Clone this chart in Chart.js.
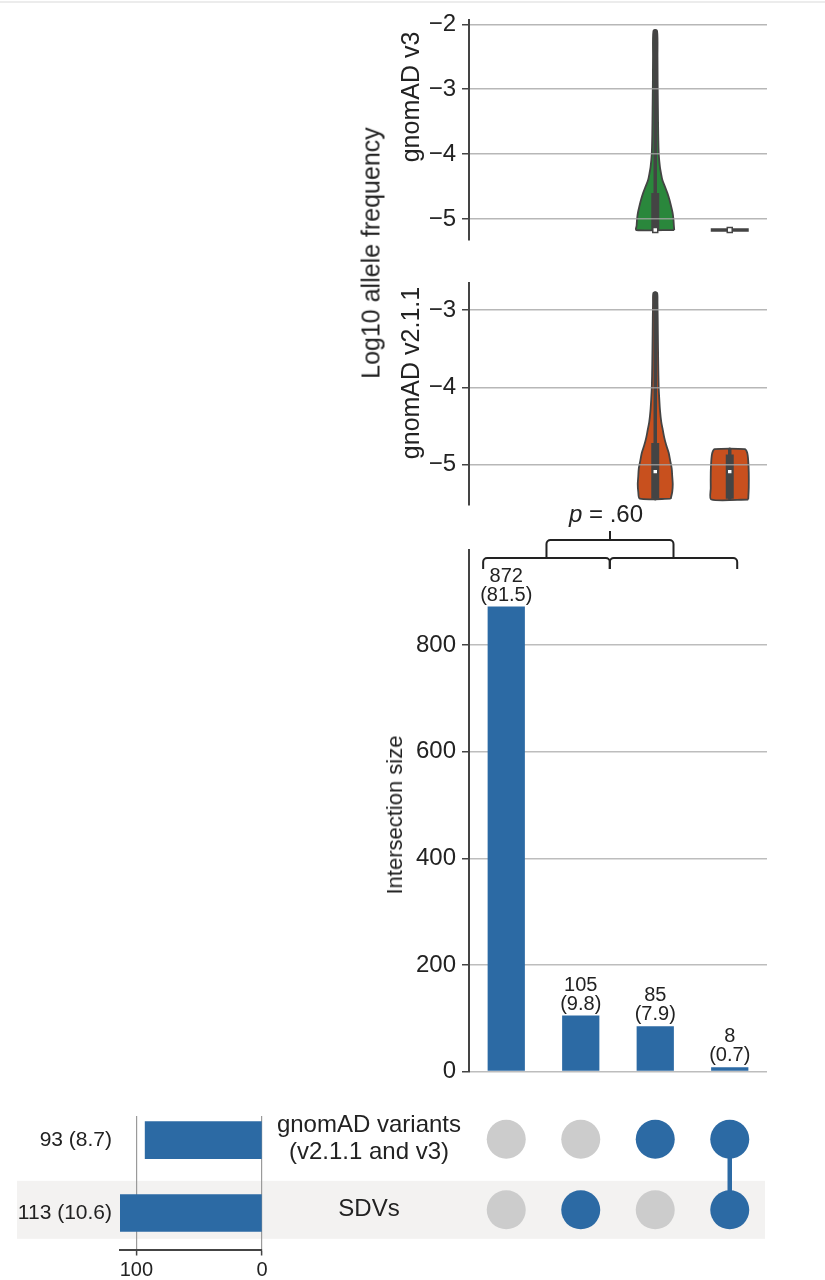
<!DOCTYPE html>
<html><head><meta charset="utf-8">
<script src="https://cdn.jsdelivr.net/npm/chart.js@4.4.1/dist/chart.umd.min.js"></script>
<style>
html,body{margin:0;padding:0;background:#fff;}
body{width:825px;height:1280px;position:relative;overflow:hidden;font-family:"Liberation Sans",Arial,sans-serif;}
canvas{position:absolute;}
.topline{position:absolute;left:0;top:1px;width:825px;height:2px;background:#ececec;}
.vt{position:absolute;white-space:nowrap;transform:translate(-50%,-50%) rotate(-90deg);color:#222;font-size:25px;line-height:1;}
</style></head><body>
<div class="topline"></div>
<canvas id="cMatrix" width="825" height="190" style="left:0;top:1090px"></canvas>
<canvas id="cTotals" width="280" height="190" style="left:0;top:1090px"></canvas>
<canvas id="cV3" width="825" height="260" style="left:0;top:0"></canvas>
<canvas id="cV2" width="825" height="265" style="left:0;top:260px"></canvas>
<canvas id="cBars" width="825" height="602" style="left:0;top:490px"></canvas>
<div class="vt" style="left:371px;top:253px">Log10 allele frequency</div>
<div class="vt" style="left:410px;top:97px">gnomAD v3</div>
<div class="vt" style="left:410px;top:373px">gnomAD v2.1.1</div>
<div class="vt" style="left:395px;top:815px;font-size:22px">Intersection size</div>
<script>
// ---------- data ----------
const intersections = ['neither', 'SDVs only', 'gnomAD only', 'gnomAD and SDVs'];
const intersectionCounts = [872, 105, 85, 8];
const intersectionPercents = [81.5, 9.8, 7.9, 0.7];
const setNames = [['gnomAD variants', '(v2.1.1 and v3)'], ['SDVs']];
const setTotals = [93, 113];
const setPercents = [8.7, 10.6];
const inGnomad = [0, 0, 1, 1];
const inSdv = [0, 1, 0, 1];
const countTicks = [0, 200, 400, 600, 800];
const totalTicks = [0, 100];
const v3Ticks = [-5, -4, -3, -2];
const v21Ticks = [-5, -4, -3];
const pValueText = '.60';
// violin outlines: log10 AF levels and half widths (column units), per intersection column
const v3Levels = [[], [],
  [-5.17, -5.1, -5.0, -4.9, -4.8, -4.7, -4.6, -4.5, -4.4, -4.3, -4.2, -4.0, -3.7, -3.3, -2.9, -2.5, -2.1],
  [-5.17]];
const v3Widths = [[], [],
  [0.255, 0.250, 0.244, 0.232, 0.212, 0.190, 0.163, 0.130, 0.096, 0.078, 0.063, 0.047, 0.040, 0.036, 0.032, 0.030, 0.024],
  [0.255]];
// [min, q1, median, q3, max]
const v3Stats = [null, null, [-5.17, -5.17, -5.17, -4.6, -2.1], [-5.17, -5.17, -5.17, -5.17, -5.17]];
const v21Levels = [[], [],
  [-5.44, -5.35, -5.25, -5.15, -5.05, -4.95, -4.85, -4.75, -4.65, -4.55, -4.45, -4.3, -4.15, -4.0, -3.7, -3.3, -2.9, -2.78],
  [-5.45, -5.3, -5.1, -4.95, -4.85, -4.8]];
const v21Widths = [[], [],
  [0.208, 0.228, 0.235, 0.228, 0.221, 0.201, 0.181, 0.148, 0.121, 0.101, 0.081, 0.064, 0.054, 0.046, 0.040, 0.035, 0.030, 0.024],
  [0.248, 0.255, 0.255, 0.248, 0.235, 0.201]];
const v21Stats = [null, null, [-5.44, -5.44, -5.09, -4.72, -2.78], [-5.44, -5.44, -5.09, -4.87, -4.8]];

// ---------- style ----------
const FONT = '"Liberation Sans", Arial, sans-serif';
const BLUE = '#2c6aa4';
const GREEN = '#2a873c';
const ORANGE = '#c8501e';
const DARK = '#444444';
Chart.defaults.font.family = FONT;
Chart.defaults.color = '#222';
Chart.defaults.animation = false;
Chart.defaults.events = [];
Chart.defaults.plugins.legend.display = false;
Chart.defaults.plugins.tooltip.enabled = false;

const PLOT_PAD = {left: 380, right: 58};
const AXIS_W = 89;

function leftAxis(min, max, ticks, gridOnTop) {
  return {
    type: 'linear', min: min, max: max,
    afterFit: s => { s.width = AXIS_W; },
    afterBuildTicks: s => { s.ticks = ticks.map(v => ({value: v})); },
    ticks: {font: {size: 24}, color: '#222', padding: 6, z: gridOnTop ? 1 : 0,
      callback: v => (v < 0 ? '\u2212' : '') + Math.abs(v)},
    grid: {color: gridOnTop ? 'rgba(165,165,165,0.8)' : '#bdbdbd', lineWidth: 1.5, tickLength: 7,
      tickColor: DARK, tickWidth: 1.5, z: gridOnTop ? 1 : -1},
    border: {color: DARK, width: 2, z: gridOnTop ? 1 : 0}
  };
}

function violinChart(id, levels, widths, stats, color, yMin, yMax, ticks, padTop, padBottom) {
  const datasets = [];
  stats.forEach((st, c) => {
    if (!st) return;
    const [mn, q1, md, q3, mx] = st;
    datasets.push({data: [{x: c, y: md}], showLine: false, pointRadius: 3.5, pointStyle: 'rect',
      pointBackgroundColor: '#fff', pointBorderColor: DARK, pointBorderWidth: 1.5, order: 0});
    if (q3 > q1) datasets.push({data: [{x: c, y: q1}, {x: c, y: q3}], borderColor: DARK, borderWidth: 8,
      pointRadius: 0, borderCapStyle: 'butt', order: 1});
    if (mx > mn) datasets.push({data: [{x: c, y: mn}, {x: c, y: mx}], borderColor: DARK, borderWidth: 3.5,
      pointRadius: 0, borderCapStyle: 'round', order: 2});
  });
  levels.forEach((lv, c) => {
    if (!lv.length) return;
    const w = widths[c];
    const right = lv.map((y, i) => ({x: c + w[i], y: y}));
    const left = lv.map((y, i) => ({x: c - w[i], y: y})).reverse();
    datasets.push({data: right.concat(left, [right[0]]), borderColor: DARK,
      borderWidth: lv.length > 1 ? 1.8 : 3.5, backgroundColor: color,
      fill: lv.length > 1 ? 'shape' : false, pointRadius: 0, tension: 0.25, order: 3});
  });
  return new Chart(document.getElementById(id), {
    type: 'line',
    data: {datasets: datasets},
    options: {
      responsive: false,
      layout: {padding: {left: PLOT_PAD.left, right: PLOT_PAD.right, top: padTop, bottom: padBottom}},
      scales: {
        x: {type: 'linear', min: -0.5, max: intersections.length - 0.5, display: false},
        y: leftAxis(yMin, yMax, ticks, true)
      }
    }
  });
}

violinChart('cV3', v3Levels, v3Widths, v3Stats, GREEN, -5.318, -1.939, v3Ticks, 17, 20);
violinChart('cV2', v21Levels, v21Widths, v21Stats, ORANGE, -5.516, -2.652, v21Ticks, 23, 20);

// ---------- intersection bars ----------
const barLabelPlugin = {
  id: 'barLabels',
  afterDatasetsDraw(chart) {
    const ctx = chart.ctx;
    const meta = chart.getDatasetMeta(0);
    ctx.save();
    ctx.font = '20px ' + FONT;
    ctx.fillStyle = '#222';
    ctx.textAlign = 'center';
    ctx.textBaseline = 'alphabetic';
    meta.data.forEach((bar, i) => {
      ctx.fillText(String(intersectionCounts[i]), bar.x, bar.y - 25);
      ctx.fillText('(' + intersectionPercents[i].toFixed(1) + ')', bar.x, bar.y - 6);
    });
    ctx.restore();
  }
};

const bracketGroups = [[-0.31, 1.39], [1.39, 3.10]];
const bracketPlugin = {
  id: 'brackets',
  afterDraw(chart) {
    const ctx = chart.ctx;
    const xs = chart.scales.x;
    const top = chart.chartArea.top;
    const px = v => xs.getPixelForValue(v);
    const r = 4;
    function bracket(x1, x2, y, yEnd) {
      ctx.beginPath();
      ctx.moveTo(x1, yEnd);
      ctx.lineTo(x1, y + r);
      ctx.arcTo(x1, y, x1 + r, y, r);
      ctx.lineTo(x2 - r, y);
      ctx.arcTo(x2, y, x2, y + r, r);
      ctx.lineTo(x2, yEnd);
      ctx.stroke();
    }
    ctx.save();
    ctx.strokeStyle = '#222';
    ctx.lineWidth = 2;
    const lowY = top + 8, lowEnd = top + 19;
    const upY = top - 10, upTop = top - 19;
    const mids = [];
    bracketGroups.forEach(([a, b]) => {
      bracket(px(a), px(b), lowY, lowEnd);
      mids.push(px((a + b) / 2));
    });
    bracket(mids[0], mids[1], upY, lowY);
    const cx = (mids[0] + mids[1]) / 2;
    ctx.beginPath();
    ctx.moveTo(cx, upY);
    ctx.lineTo(cx, upTop);
    ctx.stroke();
    // p value text
    ctx.fillStyle = '#222';
    ctx.textBaseline = 'alphabetic';
    ctx.textAlign = 'left';
    const fItal = 'italic 24px ' + FONT, fNorm = '24px ' + FONT;
    ctx.font = fItal; const w1 = ctx.measureText('p').width;
    ctx.font = fNorm; const rest = ' = ' + pValueText; const w2 = ctx.measureText(rest).width;
    const x0 = cx - 4 - (w1 + w2) / 2;
    const by = top - 28;
    ctx.font = fItal; ctx.fillText('p', x0, by);
    ctx.font = fNorm; ctx.fillText(rest, x0 + w1, by);
    ctx.restore();
  }
};

new Chart(document.getElementById('cBars'), {
  type: 'bar',
  data: {labels: intersections, datasets: [{data: intersectionCounts, backgroundColor: BLUE,
    barPercentage: 0.5, categoryPercentage: 1}]},
  options: {
    responsive: false,
    layout: {padding: {left: PLOT_PAD.left, right: PLOT_PAD.right, top: 60, bottom: 20}},
    scales: {
      x: {display: false},
      y: leftAxis(0, 978, countTicks, false)
    }
  },
  plugins: [barLabelPlugin, bracketPlugin]
});

// ---------- membership matrix ----------
const rowOf = r => setNames.length - 1 - r;
const grayDots = [], blueDots = [], connectors = [];
intersections.forEach((_, c) => {
  const rows = [];
  [inGnomad, inSdv].forEach((mem, r) => {
    if (mem[c]) { blueDots.push({x: c, y: rowOf(r)}); rows.push(rowOf(r)); }
    else grayDots.push({x: c, y: rowOf(r)});
  });
  if (rows.length > 1) connectors.push([{x: c, y: Math.min(...rows)}, {x: c, y: Math.max(...rows)}]);
});
const bandPlugin = {
  id: 'band',
  beforeDraw(chart) {
    const ctx = chart.ctx, ys = chart.scales.y;
    ctx.save();
    ctx.fillStyle = '#f3f2f1';
    setNames.forEach((_, r) => {
      if (r % 2 === 1) {
        const y = ys.getPixelForValue(rowOf(r));
        ctx.fillRect(17, y - 29, chart.chartArea.right - 2 - 17, 58);
      }
    });
    ctx.restore();
  }
};
const matrixSets = connectors.map(seg => ({data: seg, borderColor: BLUE, borderWidth: 4.5, pointRadius: 0, order: 2}));
matrixSets.push({data: grayDots, showLine: false, pointRadius: 19.5, pointBackgroundColor: '#cccccc', pointBorderWidth: 0, order: 1});
matrixSets.push({data: blueDots, showLine: false, pointRadius: 19.5, pointBackgroundColor: BLUE, pointBorderWidth: 0, order: 0});
new Chart(document.getElementById('cMatrix'), {
  type: 'line',
  data: {datasets: matrixSets},
  options: {
    responsive: false,
    clip: false,
    layout: {padding: {left: 260, right: PLOT_PAD.right, top: 26, bottom: 30.5}},
    scales: {
      x: {type: 'linear', min: -0.5, max: intersections.length - 0.5, display: false},
      y: {type: 'linear', min: -0.5, max: 1.33, offset: false,
        afterFit: s => { s.width = 209; },
        afterBuildTicks: s => { s.ticks = setNames.map((_, r) => ({value: rowOf(r)})); },
        ticks: {font: {size: 24, lineHeight: 1.12}, color: '#222', padding: 8, crossAlign: 'center',
          callback: v => setNames[rowOf(v)]},
        grid: {display: false, drawTicks: false}, border: {display: false}}
    }
  },
  plugins: [bandPlugin]
});

// ---------- set totals ----------
new Chart(document.getElementById('cTotals'), {
  type: 'bar',
  data: {datasets: [{data: setTotals.map((v, r) => ({x: v, y: rowOf(r)})), backgroundColor: BLUE, barThickness: 37}]},
  options: {
    indexAxis: 'y',
    responsive: false,
    layout: {padding: {left: 18, right: 18, top: 26, bottom: 2.5}},
    scales: {
      x: {type: 'linear', position: 'bottom', reverse: true, min: 0, max: 113,
        afterBuildTicks: s => { s.ticks = totalTicks.map(v => ({value: v})); },
        afterFit: s => { s.height = 28; },
        ticks: {font: {size: 20}, color: '#222', padding: 3},
        grid: {color: '#9a9a9a', lineWidth: 1.2, tickLength: 6, tickColor: DARK, tickWidth: 1.5},
        border: {color: DARK, width: 2}},
      y: {type: 'linear', min: -0.5, max: 1.33, offset: false,
        afterFit: s => { s.width = 102; },
        afterBuildTicks: s => { s.ticks = setNames.map((_, r) => ({value: rowOf(r)})); },
        ticks: {font: {size: 21}, color: '#222', padding: 8,
          callback: v => { const r = rowOf(v); return setTotals[r] + ' (' + setPercents[r] + ')'; }},
        grid: {display: false, drawTicks: false, offset: false}, border: {display: false}}
    }
  }
});
</script>
</body></html>
